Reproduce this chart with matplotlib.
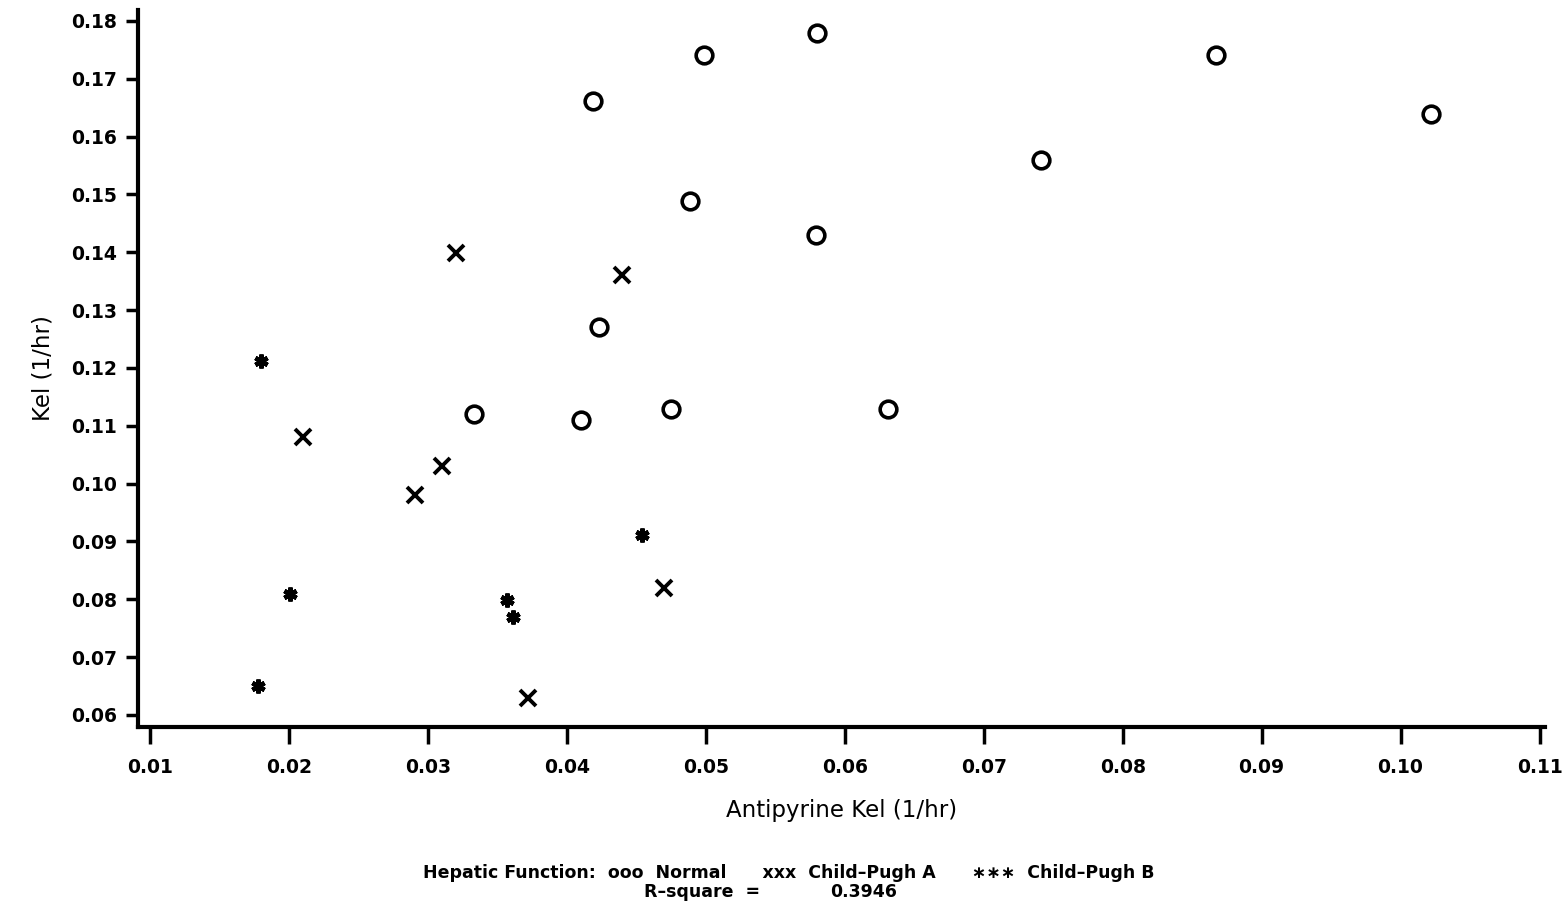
import matplotlib.pyplot as plt

# Antipyrine elimination rate vs drug elimination rate, grouped by hepatic function
normal_x = [0.0580, 0.0499, 0.0419, 0.0867, 0.1022, 0.0741, 0.0489, 0.0579,
            0.0423, 0.0333, 0.0410, 0.0475, 0.0631]
normal_y = [0.178, 0.1742, 0.1661, 0.1742, 0.164, 0.156, 0.1489, 0.143,
            0.1271, 0.1121, 0.111, 0.1129, 0.1129]

pugh_a_x = [0.0320, 0.0440, 0.0210, 0.0310, 0.0291, 0.0470, 0.0372]
pugh_a_y = [0.1399, 0.1361, 0.1081, 0.1031, 0.0981, 0.0820, 0.0629]

pugh_b_x = [0.0180, 0.0454, 0.0201, 0.0357, 0.0361, 0.0178]
pugh_b_y = [0.1212, 0.0911, 0.0809, 0.0799, 0.0770, 0.0650]

x_ticks = [0.01, 0.02, 0.03, 0.04, 0.05, 0.06, 0.07, 0.08, 0.09, 0.10, 0.11]
x_tick_labels = ['0.01', '0.02', '0.03', '0.04', '0.05', '0.06', '0.07',
                 '0.08', '0.09', '0.10', '0.11']
y_ticks = [0.06, 0.07, 0.08, 0.09, 0.10, 0.11, 0.12, 0.13, 0.14, 0.15,
           0.16, 0.17, 0.18]
y_tick_labels = ['%.2f' % v for v in y_ticks]
r_square = 0.3946

fig = plt.figure(figsize=(15.64, 9.10), dpi=100)
ax = fig.add_axes([0.0882, 0.2011, 0.8997, 0.7879])

ax.plot(normal_x, normal_y, linestyle='none', marker='o', markersize=12,
        markerfacecolor='none', markeredgecolor='black', markeredgewidth=2.6)
ax.plot(pugh_a_x, pugh_a_y, linestyle='none', marker='x', markersize=11,
        markeredgecolor='black', markeredgewidth=2.8)
ax.plot(pugh_b_x, pugh_b_y, linestyle='none', marker=(6, 2, 0), markersize=10,
        markeredgecolor='black', markeredgewidth=3.2)

ax.set_xlim(0.00914, 0.1104)
ax.set_ylim(0.0579, 0.1819)
ax.set_xticks(x_ticks)
ax.set_xticklabels(x_tick_labels, fontsize=13.5, fontweight='bold')
ax.set_yticks(y_ticks)
ax.set_yticklabels(y_tick_labels, fontsize=13.5, fontweight='bold')

ax.spines['top'].set_visible(False)
ax.spines['right'].set_visible(False)
ax.spines['left'].set_linewidth(3)
ax.spines['bottom'].set_linewidth(3)
ax.tick_params(axis='x', direction='out', length=12, width=2.5, pad=10)
ax.tick_params(axis='y', direction='out', length=9, width=2.5, pad=6)

ax.set_xlabel('Antipyrine Kel (1/hr)', fontsize=16.5, labelpad=16)
ax.set_ylabel('Kel (1/hr)', fontsize=16.5, labelpad=12)

# footer: legend key and fit statistic
fig.text(0.504, 0.0407,
         'Hepatic Function:  ooo  Normal      xxx  Child\u2013Pugh A      \u2217\u2217\u2217  Child\u2013Pugh B',
         ha='center', va='center', fontsize=12.5, fontweight='bold')
fig.text(760 / 1564, 0.0198, 'R\u2013square  =', ha='right', va='center',
         fontsize=12.5, fontweight='bold')
fig.text(830 / 1564, 0.0198, '%.4f' % r_square, ha='left', va='center',
         fontsize=12.5, fontweight='bold')

fig.savefig('out.png', dpi=100)
